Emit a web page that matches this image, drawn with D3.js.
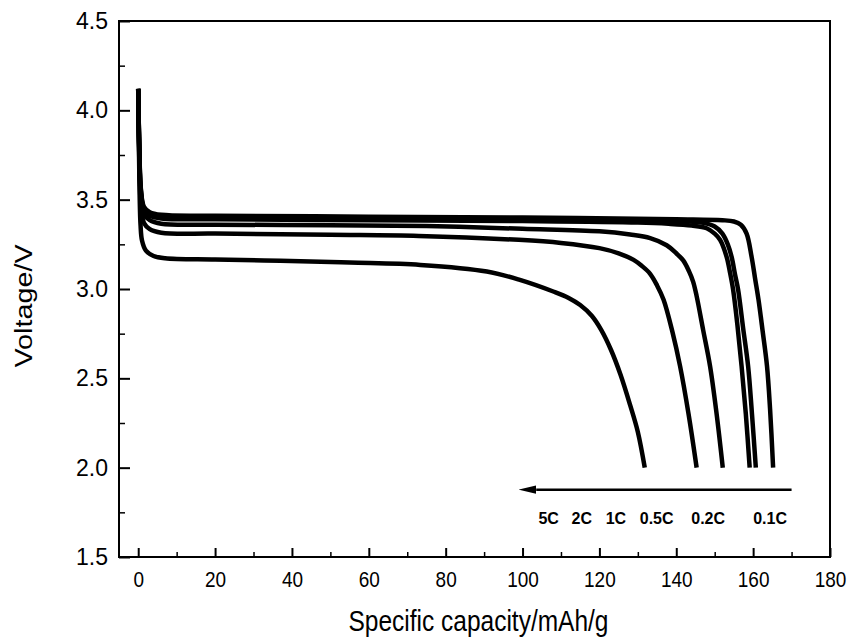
<!DOCTYPE html>
<html>
<head>
<meta charset="utf-8">
<script src="https://cdn.jsdelivr.net/npm/d3@7"></script>
<style>
  body { margin: 0; background: #fff; }
  svg { display: block; }
  text { font-family: "Liberation Sans", Arial, sans-serif; fill: #000; }
  .ylab text { font-size: 23px; }
  .xlab text { font-size: 19px; }
</style>
</head>
<body>
<svg id="chart" width="856" height="641"></svg>
<script>
// discharge curves, [capacity mAh/g, voltage V]
const rate01C = [[0,4.12],[0.3,3.78],[0.7,3.56],[1.5,3.46],[3,3.43],[6,3.415],[20,3.41],[60,3.405],[100,3.4],[140,3.39],[152,3.385],[155,3.378],[156.8,3.36],[158.3,3.31],[159.6,3.18],[160.5,3.06],[161.4,2.94],[162.5,2.76],[163.6,2.57],[164.4,2.33],[165.2,2.0]];
const rate02C = [[0,4.12],[0.3,3.77],[0.7,3.55],[1.5,3.45],[3,3.42],[6,3.405],[20,3.4],[60,3.395],[100,3.39],[130,3.385],[140,3.38],[147,3.37],[150,3.35],[152,3.31],[153.4,3.25],[154.4,3.18],[155.3,3.08],[156.1,2.995],[157.4,2.78],[158.7,2.567],[159.7,2.3],[160.7,2.0]];
const rate05C = [[0,4.12],[0.3,3.76],[0.7,3.54],[1.5,3.44],[3,3.41],[6,3.395],[20,3.39],[60,3.385],[100,3.38],[130,3.372],[138,3.365],[144,3.355],[147.9,3.34],[150,3.31],[151.4,3.275],[153.1,3.18],[154,3.09],[154.8,2.995],[155.9,2.8],[157,2.567],[158.1,2.3],[159.1,2.0]];
const rate1C = [[0,4.12],[0.3,3.74],[0.7,3.52],[1.5,3.42],[3,3.385],[6,3.365],[20,3.36],[50,3.357],[75,3.352],[100,3.337],[120,3.323],[128,3.305],[133.2,3.285],[137.5,3.245],[140,3.2],[141.8,3.16],[143.3,3.1],[144.4,3.04],[145.3,2.96],[147,2.77],[148.8,2.567],[150.5,2.3],[152.1,2.0]];
const rate2C = [[0,4.12],[0.3,3.7],[0.7,3.47],[1.5,3.37],[3,3.335],[6,3.315],[20,3.31],[50,3.303],[73,3.297],[99,3.275],[110,3.258],[120,3.229],[125,3.2],[128.9,3.163],[131,3.13],[133.2,3.085],[135,3.02],[136.7,2.94],[139,2.76],[141,2.567],[143.2,2.3],[145.3,2.0]];
const rate5C = [[0,4.12],[0.3,3.62],[0.6,3.36],[1,3.27],[2,3.215],[4,3.185],[7,3.172],[20,3.165],[37,3.158],[55,3.148],[73.4,3.135],[90.7,3.098],[99.3,3.051],[108,2.986],[112,2.95],[115,2.91],[118,2.85],[120.5,2.77],[123,2.66],[125.5,2.52],[128,2.35],[130,2.2],[131.8,2.0]];

const rateLabels = ['5C', '2C', '1C', '0.5C', '0.2C', '0.1C'];
const labelCapacity = [106.8, 115.4, 124.3, 134.9, 148.3, 164.4];
const arrowFrom = [170, 1.877];
const arrowTo = [99, 1.877];

const xTicks = [0, 20, 40, 60, 80, 100, 120, 140, 160, 180];
const yTicks = [1.5, 2.0, 2.5, 3.0, 3.5, 4.0, 4.5];

const svg = d3.select('#chart');
const area = { left: 119, right: 830, top: 21, bottom: 557 };

const x = d3.scaleLinear().domain([-5, 180]).range([area.left, area.right]);
const y = d3.scaleLinear().domain([1.5, 4.5]).range([area.bottom, area.top]);

// minor ticks
const xMinor = d3.range(10, 180, 20);
const yMinor = d3.range(1.75, 4.5, 0.5);

svg.append('g')
  .attr('transform', `translate(0,${area.bottom})`)
  .call(d3.axisBottom(x).tickValues(xMinor).tickSize(-5).tickFormat(''))
  .call(g => g.select('.domain').remove())
  .selectAll('line').attr('stroke-width', 1.5);
svg.append('g')
  .attr('transform', `translate(${area.left},0)`)
  .call(d3.axisLeft(y).tickValues(yMinor).tickSize(-6).tickFormat(''))
  .call(g => g.select('.domain').remove())
  .selectAll('line').attr('stroke-width', 1.5);

// scanned original is a bit taller than wide, so x texts are stretched
const stretch = 1.2;

const xAxis = svg.append('g')
  .attr('class', 'xlab')
  .attr('transform', `translate(0,${area.bottom})`)
  .call(d3.axisBottom(x).tickValues(xTicks).tickSize(-9).tickPadding(11.5).tickFormat(d3.format('d')));
xAxis.select('.domain').remove();
xAxis.selectAll('line').attr('stroke-width', 2);
xAxis.selectAll('text').attr('fill', '#000').attr('transform', `scale(1,${stretch})`);

const yAxis = svg.append('g')
  .attr('class', 'ylab')
  .attr('transform', `translate(${area.left},0)`)
  .call(d3.axisLeft(y).tickValues(yTicks).tickSize(-11).tickPadding(11).tickFormat(d3.format('.1f')));
yAxis.select('.domain').remove();
yAxis.selectAll('line').attr('stroke-width', 2);
yAxis.selectAll('text').attr('fill', '#000');

// frame
svg.append('rect')
  .attr('x', area.left)
  .attr('y', area.top)
  .attr('width', area.right - area.left)
  .attr('height', area.bottom - area.top)
  .attr('fill', 'none')
  .attr('stroke', '#000')
  .attr('stroke-width', 2);

const line = d3.line()
  .x(d => x(d[0]))
  .y(d => y(d[1]))
  .curve(d3.curveCatmullRom.alpha(0.5));

for (const series of [rate01C, rate02C, rate05C, rate1C, rate2C, rate5C]) {
  svg.append('path')
    .datum(series)
    .attr('fill', 'none')
    .attr('stroke', '#000')
    .attr('stroke-width', 4.5)
    .attr('stroke-linejoin', 'round')
    .attr('d', line);
}

// arrow pointing to higher rates
const arrowWidth = 2.5;
const headLen = 7 * arrowWidth;
svg.append('defs').append('marker')
  .attr('id', 'head')
  .attr('viewBox', '0 0 10 10')
  .attr('refX', 0).attr('refY', 5)
  .attr('markerWidth', 7).attr('markerHeight', 3.4)
  .attr('markerUnits', 'strokeWidth')
  .attr('orient', 'auto')
  .attr('preserveAspectRatio', 'none')
  .append('path')
  .attr('d', 'M0,0 L10,5 L0,10 Z')
  .attr('fill', '#000');

svg.append('line')
  .attr('x1', x(arrowFrom[0])).attr('y1', y(arrowFrom[1]))
  .attr('x2', x(arrowTo[0]) + headLen).attr('y2', y(arrowTo[1]))
  .attr('stroke', '#000')
  .attr('stroke-width', arrowWidth)
  .attr('marker-end', 'url(#head)');

svg.append('g')
  .selectAll('text')
  .data(rateLabels)
  .join('text')
  .attr('x', (d, i) => x(labelCapacity[i]))
  .attr('y', 524)
  .attr('text-anchor', 'middle')
  .style('font-size', '16px')
  .style('font-weight', 'bold')
  .text(d => d);

// axis titles
svg.append('text')
  .attr('transform', `translate(${(area.left + area.right) / 2 + 4},631) scale(1,${stretch})`)
  .attr('text-anchor', 'middle')
  .style('font-size', '24.5px')
  .text('Specific capacity/mAh/g');

svg.append('text')
  .attr('transform', `translate(32,306) rotate(-90) scale(${stretch},1)`)
  .attr('text-anchor', 'middle')
  .style('font-size', '24px')
  .text('Voltage/V');
</script>
</body>
</html>
